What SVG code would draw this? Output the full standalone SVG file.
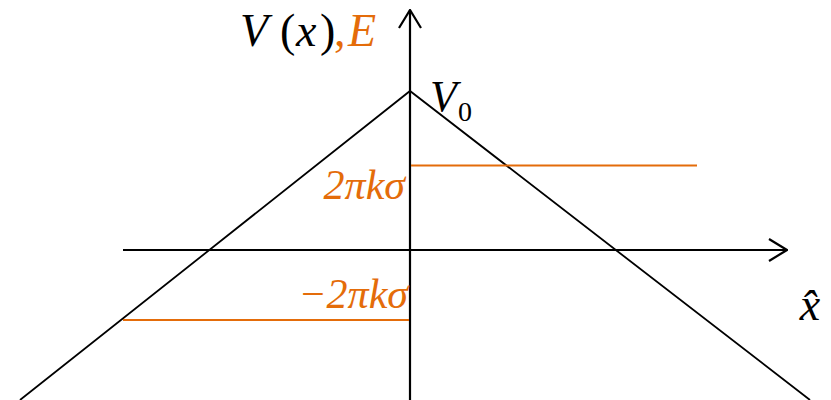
<svg xmlns="http://www.w3.org/2000/svg" width="831" height="400" viewBox="0 0 831 400">
<style>
.ax{stroke:#000;stroke-width:2.2;fill:none}
.pot{stroke:#000;stroke-width:1.8;fill:none}
.en{stroke:#E46C0A;stroke-width:2;fill:none}
.t{font-family:"Liberation Serif","DejaVu Serif",serif;font-style:italic}
.tu{font-family:"Liberation Serif","DejaVu Serif",serif;font-style:normal}
.blk{fill:#000}
.org{fill:#E46C0A}
</style>
<defs>
<marker id="arr" viewBox="0 0 20 24" refX="19" refY="12" markerWidth="20" markerHeight="24" markerUnits="userSpaceOnUse" orient="auto">
<path d="M1,1 L19,12 L1,23" fill="none" stroke="#000" stroke-width="2.2"/>
</marker>
</defs>
<g id="connectors">
<line id="x-axis" class="ax" x1="123" y1="250" x2="787" y2="250" marker-end="url(#arr)"/>
<line id="y-axis" class="ax" x1="410" y1="400" x2="410" y2="10" marker-end="url(#arr)"/>
<polyline id="potential" class="pot" points="20,400 410,91 810,400"/>
<line id="E-upper" class="en" x1="411" y1="165.5" x2="697" y2="165.5"/>
<line id="E-lower" class="en" x1="123" y1="320" x2="409" y2="320"/>
</g>
<g id="label-Vx">
<text class="t blk" x="240" y="46" font-size="46">V</text>
<text class="tu blk" x="280" y="46" font-size="46">(</text>
<text class="t blk" x="296" y="46" font-size="46">x</text>
<text class="tu blk" x="320" y="46" font-size="46">)</text>
<text class="tu org" x="334" y="46" font-size="46">,</text>
<text class="t org" x="348" y="46" font-size="46">E</text>
</g>
<g id="label-V0">
<text class="t blk" x="430" y="111" font-size="44">V</text>
<text class="tu blk" x="458" y="121" font-size="28">0</text>
</g>
<g id="label-upper">
<text class="t org" x="405" y="199" font-size="42" text-anchor="end">2πkσ</text>
</g>
<g id="label-lower">
<text class="t org" x="408" y="308" font-size="42" text-anchor="end">−2πkσ</text>
</g>
<g id="label-xhat">
<text class="t blk" x="810" y="320" font-size="46" text-anchor="middle">x̂</text>
</g>
</svg>
